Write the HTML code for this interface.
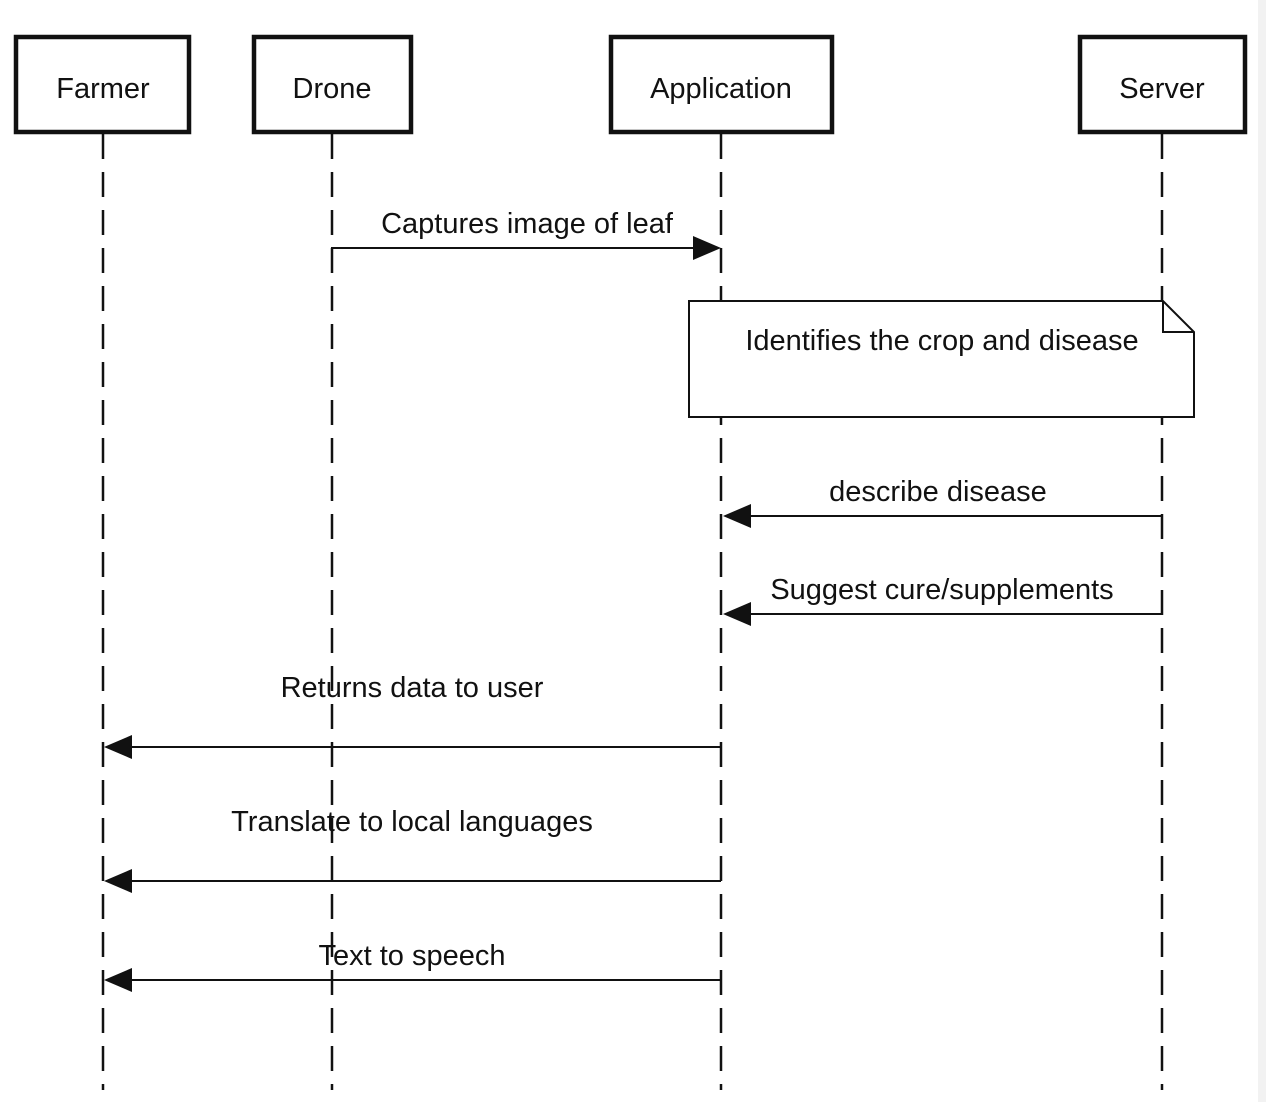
<!DOCTYPE html>
<html><head><style>
html,body{margin:0;padding:0;background:#fff;}
svg{display:block;}
text{font-family:"Liberation Sans",Helvetica,Arial,sans-serif;font-size:29px;fill:#111;}
</style></head><body>
<svg width="1266" height="1102" viewBox="0 0 1266 1102">
<rect x="1258" y="0" width="8" height="1102" fill="#f2f2f2"/>
<g stroke="#111" stroke-width="2.5" stroke-dasharray="25 13" fill="none">
<line x1="103" y1="134" x2="103" y2="1090"/>
<line x1="332" y1="134" x2="332" y2="1090"/>
<line x1="721" y1="134" x2="721" y2="1090"/>
<line x1="1162" y1="134" x2="1162" y2="1090"/>
</g>
<g stroke="#111" stroke-width="4.5" fill="#fff">
<rect x="16" y="37" width="173" height="95"/>
<rect x="254" y="37" width="157" height="95"/>
<rect x="611" y="37" width="221" height="95"/>
<rect x="1080" y="37" width="165" height="95"/>
</g>
<g text-anchor="middle">
<text x="103" y="98">Farmer</text>
<text x="332" y="98">Drone</text>
<text x="721" y="98">Application</text>
<text x="1162" y="98">Server</text>
</g>
<path d="M689 301 H1163 L1194 332 V417 H689 Z" fill="#fff" stroke="#111" stroke-width="2"/>
<path d="M1163 301 V332 H1194" fill="none" stroke="#111" stroke-width="2"/>
<text x="942" y="350" text-anchor="middle">Identifies the crop and disease</text>
<g stroke="#111" stroke-width="2" fill="none">
<path d="M332 268 V248 H693"/>
<line x1="1162" y1="516" x2="748" y2="516"/>
<line x1="1162" y1="614" x2="748" y2="614"/>
<line x1="721" y1="747" x2="130" y2="747"/>
<line x1="721" y1="881" x2="130" y2="881"/>
<line x1="721" y1="980" x2="130" y2="980"/>
</g>
<g fill="#111">
<polygon points="721,248 693,236 693,260"/>
<polygon points="723,516 751,504 751,528"/>
<polygon points="723,614 751,602 751,626"/>
<polygon points="104,747 132,735 132,759"/>
<polygon points="104,881 132,869 132,893"/>
<polygon points="104,980 132,968 132,992"/>
</g>
<g text-anchor="middle">
<text x="527" y="233">Captures image of leaf</text>
<text x="938" y="501">describe disease</text>
<text x="942" y="599">Suggest cure/supplements</text>
<text x="412" y="697">Returns data to user</text>
<text x="412" y="831">Translate to local languages</text>
<text x="412" y="965">Text to speech</text>
</g>
</svg>
</body></html>
